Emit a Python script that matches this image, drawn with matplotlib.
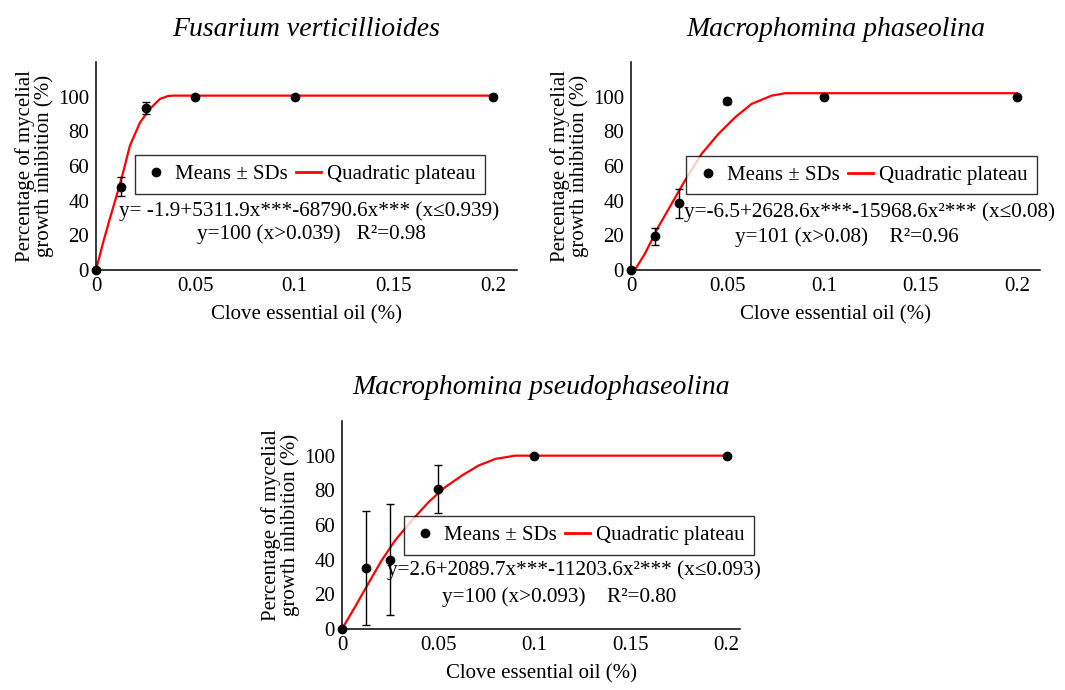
import numpy as np
import matplotlib
matplotlib.use("Agg")
import matplotlib.pyplot as plt
from matplotlib.lines import Line2D

plt.rcParams['font.family'] = ['Liberation Serif', 'DejaVu Serif']
plt.rcParams['mathtext.fontset'] = 'stix'

# Concentrations (%)
dose = [0, 0.0125, 0.025, 0.05, 0.1, 0.2]

# Fusarium verticillioides
fv_mean = [0, 48, 93.5, 100, 100, 100]
fv_sd = [0, 5.5, 3.5, 0, 0, 0]
fv_fit_x = [0, 0.0037, 0.007, 0.0104, 0.0137, 0.0171, 0.0222, 0.0272, 0.0322, 0.0364, 0.039, 0.2]
fv_fit_y = [0, 16.3, 29.7, 43, 56.5, 71.8, 85.2, 93, 98.7, 100.4, 100.6, 100.6]

# Macrophomina phaseolina
mp_mean = [0, 19.5, 38.5, 97.3, 100, 100]
mp_sd = [0, 4.8, 8.3, 1.5, 0, 0]
mp_fit_x = [0.002, 0.0073, 0.0142, 0.0211, 0.028, 0.0366, 0.0453, 0.0539, 0.0625, 0.0729, 0.08, 0.2]
mp_fit_y = [0, 9.6, 24.9, 38.3, 51.7, 67, 78.5, 88, 95.8, 100.6, 102, 102]

# Macrophomina pseudophaseolina
mps_mean = [0, 35.2, 40, 80.8, 100, 100]
mps_sd = [0, 33, 32, 14, 0, 0]
mps_fit_x = [0, 0.0068, 0.0137, 0.0207, 0.0276, 0.0363, 0.045, 0.0536, 0.0623, 0.071, 0.0797, 0.09, 0.093, 0.2]
mps_fit_y = [0, 12.8, 26.3, 39.7, 51.1, 62.6, 73.2, 81.8, 88.5, 94.3, 98.1, 100, 100, 100]

titles = ["Fusarium verticillioides", "Macrophomina phaseolina", "Macrophomina pseudophaseolina"]
eq1 = ["y= -1.9+5311.9x***-68790.6x*** (x\u22640.939)",
       "y=-6.5+2628.6x***-15968.6x\u00b2*** (x\u22640.08)",
       "y=2.6+2089.7x***-11203.6x\u00b2*** (x\u22640.093)"]
eq2 = ["y=100 (x>0.039)   R\u00b2=0.98",
       "y=101 (x>0.08)    R\u00b2=0.96",
       "y=100 (x>0.093)    R\u00b2=0.80"]

W, H = 1065, 690
FS = 15
fig = plt.figure(figsize=(W / 100, H / 100), dpi=100)


def px_axes(l, t, r, b):
    return fig.add_axes([l / W, 1 - b / H, (r - l) / W, (b - t) / H])


def draw_panel(ax, mean, sd, fx, fy, xmax, title, e1, e2, leg_box, e1_pos, e2_pos, title_y):
    ax.plot(fx, fy, color='#ff0000', lw=1.6, zorder=2, clip_on=False)
    ax.errorbar(dose, mean, yerr=sd, fmt='o', color='black', ms=6, elinewidth=1,
                capsize=3, capthick=1, zorder=3, clip_on=False)
    ax.set_xlim(0, xmax)
    ax.set_ylim(0, 120)
    ax.set_xticks([0, 0.05, 0.1, 0.15, 0.2])
    ax.set_xticklabels(['0', '0.05', '0.1', '0.15', '0.2'])
    ax.set_yticks([0, 20, 40, 60, 80, 100])
    ax.tick_params(length=0, labelsize=FS, pad=5)
    for s in ['top', 'right']:
        ax.spines[s].set_visible(False)
    for s in ['left', 'bottom']:
        ax.spines[s].set_linewidth(1.1)
    ax.set_xlabel('Clove essential oil (%)', fontsize=FS, labelpad=7)
    ax.set_ylabel('Percentage of mycelial\ngrowth inhibition (%)', fontsize=FS,
                  linespacing=0.95, labelpad=3)
    handles = [Line2D([], [], marker='o', ls='none', color='black', ms=6),
               Line2D([], [], color='#ff0000', lw=2)]
    l, t, r, b = leg_box
    leg = ax.legend(handles, ['Means \u00b1 SDs', 'Quadratic plateau'], ncol=2,
                    loc='center', bbox_to_anchor=(((l + r) / 2) / W, 1 - ((t + b) / 2) / H),
                    bbox_transform=fig.transFigure, fontsize=FS, frameon=True,
                    fancybox=False, edgecolor='black', handlelength=1.2,
                    handletextpad=0.3, columnspacing=0.4, borderpad=0.45)
    leg.get_frame().set_linewidth(1.0)
    fig.text(e1_pos[0] / W, 1 - e1_pos[1] / H, e1, ha='center', va='center', fontsize=15.3)
    fig.text(e2_pos[0] / W, 1 - e2_pos[1] / H, e2, ha='center', va='center', fontsize=15.3)
    cx = ax.get_position().x0 + ax.get_position().width / 2
    fig.text(cx, 1 - title_y / H, title, ha='center', va='center', fontsize=20, style='italic')


ax1 = px_axes(96, 62, 517, 270)
draw_panel(ax1, fv_mean, fv_sd, fv_fit_x, fv_fit_y, 0.212, titles[0], eq1[0], eq2[0],
           (140, 153, 480, 196), (309, 211), (311, 234), 30)

ax2 = px_axes(631, 62, 1040, 270)
draw_panel(ax2, mp_mean, mp_sd, mp_fit_x, mp_fit_y, 0.212, titles[1], eq1[1], eq2[1],
           (696, 154, 1027, 196), (870, 212), (847, 237), 30)

ax3 = px_axes(342, 421, 740, 629)
draw_panel(ax3, mps_mean, mps_sd, mps_fit_x, mps_fit_y, 0.207, titles[2], eq1[2], eq2[2],
           (416, 515, 742, 556), (574, 570), (559, 597), 388)

fig.savefig('out.png', dpi=100)
